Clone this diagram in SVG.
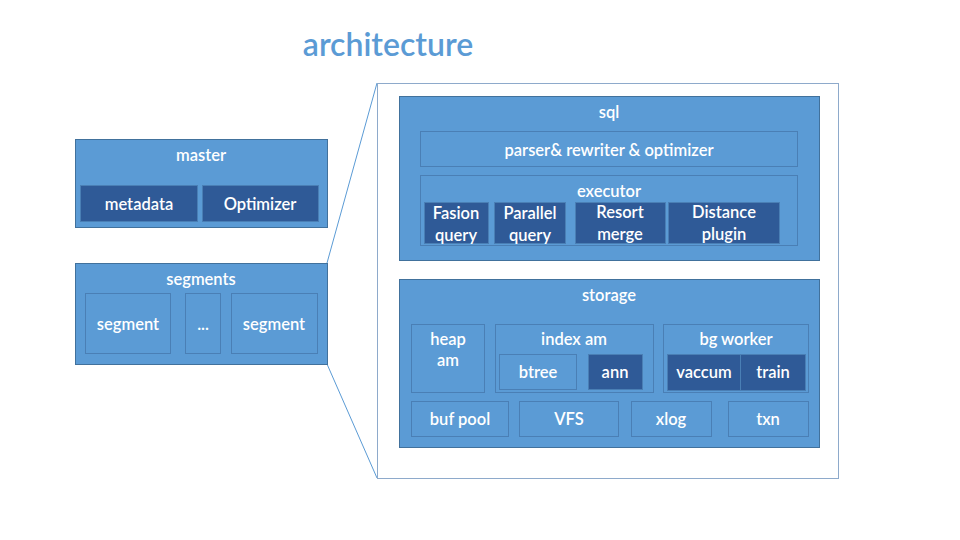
<svg xmlns="http://www.w3.org/2000/svg" width="960" height="540" viewBox="0 0 960 540">
<style>
.box{fill:#5B9BD5;stroke:#41719C;stroke-width:1}
.in{fill:#5B9BD5;stroke:#4A7FB5;stroke-width:1}
.dk{fill:#2F5A97;stroke:#4A7FB5;stroke-width:1}
text{font-family:Lato,"Open Sans",sans-serif;font-size:16.5px;font-weight:600;fill:#fff;text-anchor:middle}
.con{stroke:#5B9BD5;stroke-width:1;fill:none}
</style>
<rect width="960" height="540" fill="#fff"/>
<text x="388" y="56" style="font-size:32px;fill:#5B9BD5">architecture</text>
<g id="connectors">
<line class="con" x1="327" y1="263" x2="377" y2="83"/>
<line class="con" x1="327" y1="364" x2="377" y2="478"/>
</g>
<g id="outline"><rect x="377.5" y="83.5" width="461" height="395" fill="#fff" stroke="#8EAACB" stroke-width="1"/></g>
<g id="master">
<rect class="box" x="75.5" y="139.5" width="252" height="88"/>
<text x="201" y="161">master</text>
<g id="metadata"><rect class="dk" x="80.5" y="185.5" width="117" height="36"/><text x="139" y="210">metadata</text></g>
<g id="optimizer"><rect class="dk" x="202.5" y="185.5" width="116" height="36"/><text x="260" y="210">Optimizer</text></g>
</g>
<g id="segments">
<rect class="box" x="75.5" y="263.5" width="252" height="101"/>
<text x="201" y="285">segments</text>
<g id="segment1"><rect class="in" x="85.5" y="293.5" width="85" height="60"/><text x="128" y="330">segment</text></g>
<g id="dots"><rect class="in" x="185.5" y="293.5" width="35" height="60"/><text x="203" y="330">...</text></g>
<g id="segment2"><rect class="in" x="231.5" y="293.5" width="86" height="60"/><text x="274" y="330">segment</text></g>
</g>
<g id="sql">
<rect class="box" x="399.5" y="96.5" width="420" height="164"/>
<text x="609" y="118">sql</text>
<g id="parser"><rect class="in" x="420.5" y="131.5" width="377" height="35"/><text x="609" y="156">parser&amp; rewriter &amp; optimizer</text></g>
<g id="executor"><rect class="in" x="420.5" y="175.5" width="377" height="70"/><text x="609" y="197">executor</text>
<g id="fasion"><rect class="dk" x="424.5" y="202.5" width="64" height="41"/><text x="456" y="219">Fasion</text><text x="456" y="241">query</text></g>
<g id="parallel"><rect class="dk" x="494.5" y="202.5" width="71" height="41"/><text x="530" y="219">Parallel</text><text x="530" y="241">query</text></g>
<g id="resort"><rect class="dk" x="575.5" y="202.5" width="90" height="41"/><text x="620" y="218">Resort</text><text x="620" y="240">merge</text></g>
<g id="distance"><rect class="dk" x="668.5" y="202.5" width="111" height="41"/><text x="724" y="218">Distance</text><text x="724" y="240">plugin</text></g>
</g>
</g>
<g id="storage">
<rect class="box" x="399.5" y="279.5" width="420" height="168"/>
<text x="609" y="301">storage</text>
<g id="heapam"><rect class="in" x="411.5" y="324.5" width="73" height="68"/><text x="448" y="345">heap</text><text x="448" y="366">am</text></g>
<g id="indexam"><rect class="in" x="495.5" y="324.5" width="158" height="68"/><text x="574" y="345">index am</text>
<g id="btree"><rect class="in" x="499.5" y="354.5" width="77" height="35"/><text x="538" y="378">btree</text></g>
<g id="ann"><rect class="dk" x="588.5" y="354.5" width="54" height="35"/><text x="615" y="378">ann</text></g>
</g>
<g id="bgworker"><rect class="in" x="663.5" y="324.5" width="145" height="68"/><text x="736" y="345">bg worker</text>
<g id="vaccum"><rect class="dk" x="667.5" y="354.5" width="73" height="36"/><text x="704" y="378">vaccum</text></g>
<g id="train"><rect class="dk" x="740.5" y="354.5" width="65" height="36"/><text x="773" y="378">train</text></g>
</g>
<g id="bufpool"><rect class="in" x="411.5" y="401.5" width="97" height="35"/><text x="460" y="425">buf pool</text></g>
<g id="vfs"><rect class="in" x="519.5" y="401.5" width="99" height="35"/><text x="569" y="425">VFS</text></g>
<g id="xlog"><rect class="in" x="631.5" y="401.5" width="80" height="35"/><text x="671" y="425">xlog</text></g>
<g id="txn"><rect class="in" x="728.5" y="401.5" width="80" height="35"/><text x="768" y="425">txn</text></g>
</g>
</svg>
